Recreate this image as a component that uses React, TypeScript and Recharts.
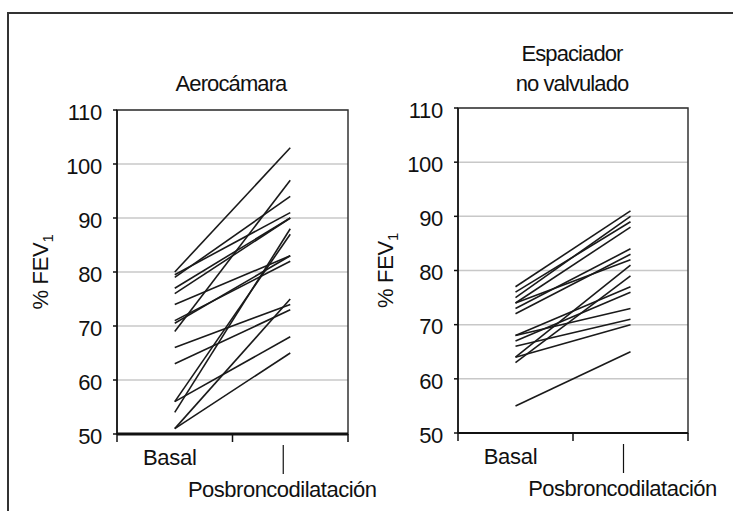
import React from 'react';
import { LineChart, Line, XAxis, YAxis, CartesianGrid, ReferenceArea } from 'recharts';

const categories = ['Basal', 'Posbroncodilatación'];
const yTicks = [50, 60, 70, 80, 90, 100, 110];
const xTicks = [0, 0.5, 1, 1.5, 2];

const aeroTitle = ['Aerocámara'];
const aeroBasal = [80, 79.5, 79, 77, 76, 74, 71, 70.5, 69, 66, 63, 56, 56, 54, 51, 51];
const aeroPost = [103, 91, 94, 90, 90, 83, 82, 83, 97, 74, 73, 68, 87, 88, 75, 65];

const espTitle = ['Espaciador', 'no valvulado'];
const espBasal = [77, 76, 75, 74, 74, 73, 72, 68, 68, 67, 66, 64, 64, 63, 55];
const espPost = [91, 89, 90, 88, 82, 84, 83, 77, 73, 76, 71, 70, 81, 79, 65];

const FONT = '"Liberation Sans", Arial, Helvetica, sans-serif';
const FS = 22;
const LS = -0.3;
const INK = '#111';

function buildRows(basal: number[], post: number[]) {
  return categories.map((c, i) => {
    const row: any = { x: i + 0.5, cat: c };
    (i === 0 ? basal : post).forEach((v, k) => {
      row['s' + k] = v;
    });
    return row;
  });
}

const XTick = (props: any) => {
  const { x, y, payload } = props;
  const v = payload.value;
  if (Number.isInteger(v)) {
    return <line x1={x} y1={y} x2={x} y2={y + 8} stroke={INK} strokeWidth={1.5} />;
  }
  const idx = Math.floor(v);
  if (idx === 0) {
    return (
      <text x={x - 5} y={y + 31} textAnchor="middle" fontSize={FS} letterSpacing={LS} fontFamily={FONT} fill={INK}>
        {categories[0]}
      </text>
    );
  }
  return (
    <g>
      <line x1={x - 7} y1={y + 11} x2={x - 7} y2={y + 40} stroke={INK} strokeWidth={1.2} />
      <text x={x - 8} y={y + 63} textAnchor="middle" fontSize={FS} letterSpacing={-0.5} fontFamily={FONT} fill={INK}>
        {categories[1]}
      </text>
    </g>
  );
};

const YLab = (props: any) => {
  const { viewBox, gap } = props;
  const cx = viewBox.x + viewBox.width - gap;
  const cy = viewBox.y + viewBox.height / 2;
  return (
    <text
      transform={`rotate(-90 ${cx} ${cy})`}
      x={cx}
      y={cy}
      textAnchor="middle"
      dominantBaseline="central"
      fontSize={FS}
      letterSpacing={LS}
      fontFamily={FONT}
      fill={INK}
    >
      % FEV
      <tspan fontSize={15} dy={7}>
        1
      </tspan>
    </text>
  );
};

type PanelProps = {
  axisX: number;
  plotTop: number;
  plotW: number;
  plotH: number;
  basal: number[];
  post: number[];
  gap: number;
  bottomW: number;
};

function Panel({ axisX, plotTop, plotW, plotH, basal, post, gap, bottomW }: PanelProps) {
  const data = buildRows(basal, post);
  const keys = basal.map((_, k) => 's' + k);
  const yAxisW = 117;
  const mt = 20;
  const mr = 70;
  return (
    <div style={{ position: 'absolute', left: axisX - yAxisW, top: plotTop - mt }}>
      <LineChart
        width={yAxisW + plotW + mr}
        height={mt + plotH + 77}
        data={data}
        margin={{ top: mt, right: mr, bottom: 0, left: 0 }}
      >
        <CartesianGrid vertical={false} stroke="#c8c8c8" strokeWidth={1.5} />
        <ReferenceArea x1={0} x2={2} y1={50} y2={110} fill="none" stroke="#333" strokeWidth={1.5} />
        <XAxis
          dataKey="x"
          type="number"
          domain={[0, 2]}
          ticks={xTicks}
          interval={0}
          height={77}
          tickSize={0}
          tickMargin={0}
          tickLine={false}
          axisLine={{ stroke: INK, strokeWidth: bottomW }}
          tick={(p: any) => <XTick {...p} />}
        />
        <YAxis
          type="number"
          domain={[50, 110]}
          ticks={yTicks}
          interval={0}
          width={yAxisW}
          tickSize={4}
          tickMargin={11}
          tick={{ fill: INK, fontSize: FS, fontFamily: FONT, letterSpacing: LS, dy: 2 }}
          axisLine={{ stroke: INK, strokeWidth: 1.5 }}
          tickLine={{ stroke: INK, strokeWidth: 1.5 }}
          label={<YLab gap={gap} />}
        />
        {keys.map((k) => (
          <Line
            key={k}
            dataKey={k}
            type="linear"
            stroke="#1a1a1a"
            strokeWidth={1.6}
            dot={false}
            activeDot={false}
            isAnimationActive={false}
          />
        ))}
      </LineChart>
    </div>
  );
}

function Title({ lines, cx, top }: { lines: string[]; cx: number; top: number }) {
  return (
    <div
      style={{
        position: 'absolute',
        left: cx - 150,
        top,
        width: 300,
        textAlign: 'center',
        fontFamily: FONT,
        fontSize: FS,
        letterSpacing: -0.9,
        lineHeight: '30px',
        color: INK,
      }}
    >
      {lines.map((l) => (
        <div key={l}>{l}</div>
      ))}
    </div>
  );
}

export default function App() {
  return (
    <div
      style={{
        position: 'absolute',
        left: 0,
        top: 0,
        width: 733,
        height: 511,
        overflow: 'hidden',
        background: '#fff',
      }}
    >
      <div
        style={{
          position: 'absolute',
          left: 7,
          top: 12,
          width: 800,
          height: 600,
          borderTop: '2px solid #333',
          borderLeft: '2px solid #333',
        }}
      />
      <Title lines={aeroTitle} cx={231} top={69} />
      <Title lines={espTitle} cx={572} top={39} />
      <Panel axisX={117} plotTop={110} plotW={231} plotH={324} basal={aeroBasal} post={aeroPost} gap={77} bottomW={3} />
      <Panel axisX={458} plotTop={108} plotW={230} plotH={325} basal={espBasal} post={espPost} gap={73} bottomW={2} />
    </div>
  );
}
